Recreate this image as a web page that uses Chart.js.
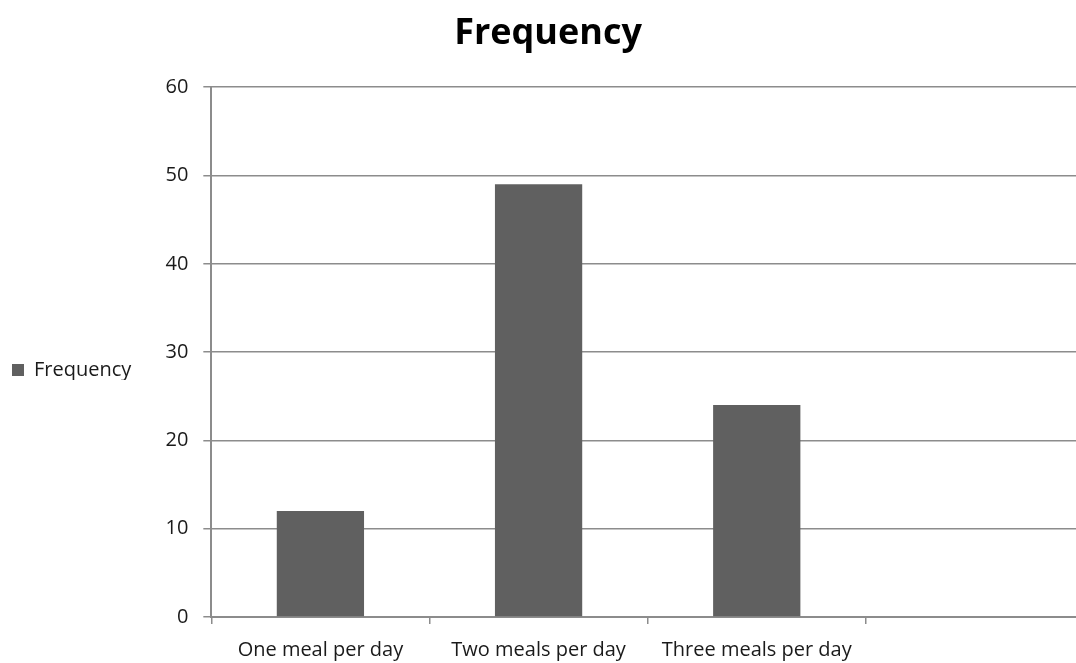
<!DOCTYPE html>
<html>
<head>
<meta charset="utf-8">
<script src="https://cdn.jsdelivr.net/npm/chart.js@4/dist/chart.umd.min.js"></script>
<style>
  html, body { margin: 0; padding: 0; background: #ffffff; overflow: hidden; }
  #wrap { width: 1100px; height: 663px; }
</style>
</head>
<body>
<div id="wrap"><canvas id="chart" width="1100" height="663"></canvas></div>
<script>
// Meal frequency survey: number of respondents per daily meal count
const categories = ['One meal per day', 'Two meals per day', 'Three meals per day', ''];
const frequency = [12, 49, 24, null];
const yTicks = [0, 10, 20, 30, 40, 50, 60];

const FONT = '"Open Sans", Lato, sans-serif';
const AXIS_GREY = '#8c8c8c';
const TEXT = '#1a1a1a';

// Centre the side legend slightly below the middle of the plot area
const legendOffset = {
  id: 'legendOffset',
  beforeDraw(chart) {
    const lg = chart.legend;
    const area = chart.chartArea;
    if (!lg || !area) return;
    const h = (lg.columnSizes && lg.columnSizes[0]) ? lg.columnSizes[0].height : lg.height;
    const mid = (area.top + area.bottom) / 2 + 18;
    lg.top = mid - h / 2;
    lg.bottom = mid + h / 2;
  }
};

new Chart(document.getElementById('chart'), {
  type: 'bar',
  data: {
    labels: categories,
    datasets: [{
      label: 'Frequency',
      data: frequency,
      backgroundColor: '#606060',
      borderWidth: 0,
      categoryPercentage: 1.0,
      barPercentage: 0.4
    }]
  },
  options: {
    responsive: false,
    animation: false,
    layout: { padding: { top: 0, right: 16, bottom: 0, left: 12 } },
    plugins: {
      title: {
        display: true,
        text: 'Frequency',
        color: '#000000',
        font: { family: FONT, size: 36, weight: 'bold' },
        padding: { top: 12, bottom: 32 }
      },
      legend: {
        position: 'left',
        labels: {
          color: TEXT,
          font: { family: FONT, size: 20 },
          boxWidth: 12,
          boxHeight: 12,
          padding: 0
        }
      },
      tooltip: { enabled: false }
    },
    scales: {
      x: {
        afterFit: (scale) => { scale.height = 46; },
        grid: {
          display: true,
          drawOnChartArea: false,
          drawTicks: true,
          tickLength: 7,
          color: AXIS_GREY,
          lineWidth: 1.5,
          offset: true
        },
        border: { display: true, color: AXIS_GREY, width: 2 },
        ticks: {
          color: TEXT,
          font: { family: FONT, size: 20 },
          maxRotation: 0,
          autoSkip: false,
          padding: 14
        }
      },
      y: {
        min: 0,
        max: 60,
        afterBuildTicks: (scale) => { scale.ticks = yTicks.map(v => ({ value: v })); },
        afterFit: (scale) => { scale.width = 70; },
        grid: {
          color: AXIS_GREY,
          lineWidth: 1.5,
          drawTicks: true,
          tickLength: 8,
          z: -1
        },
        border: { display: true, color: AXIS_GREY, width: 2 },
        ticks: {
          color: TEXT,
          font: { family: FONT, size: 20 },
          padding: 15
        }
      }
    }
  },
  plugins: [legendOffset]
});
</script>
</body>
</html>
